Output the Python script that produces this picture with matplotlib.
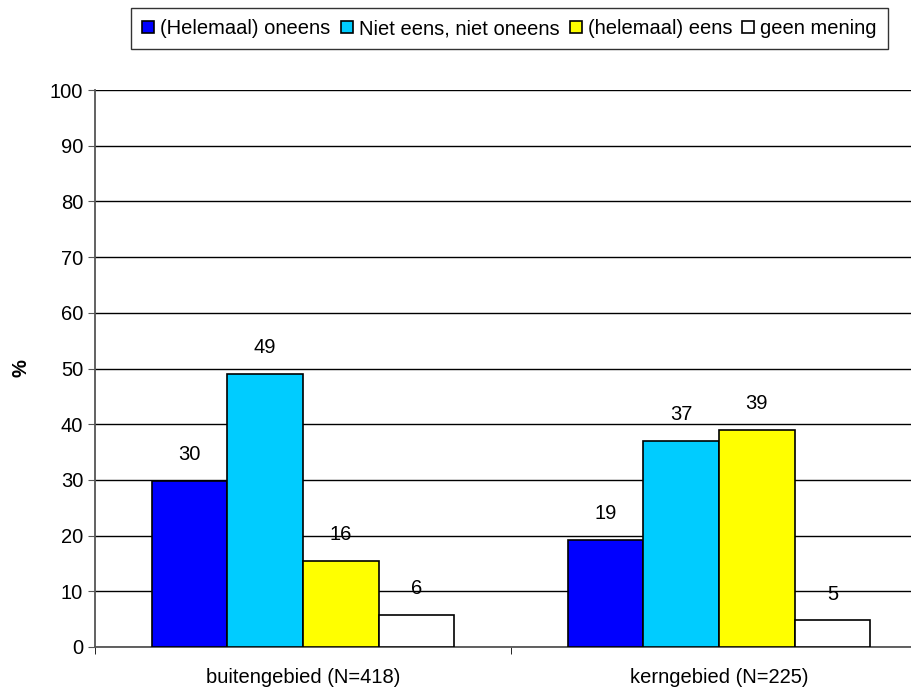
import numpy as np
import matplotlib.pyplot as plt

plt.rcParams['font.family'] = ['Liberation Sans', 'DejaVu Sans']

categories = ["buitengebied (N=418)", "kerngebied (N=225)"]
series = ["(Helemaal) oneens", "Niet eens, niet oneens", "(helemaal) eens", "geen mening"]
colors = ["#0000FF", "#00CCFF", "#FFFF00", "#FFFFFF"]
values = [
    [29.8, 19.2],   # (Helemaal) oneens
    [49.0, 37.0],   # Niet eens, niet oneens
    [15.5, 39.0],   # (helemaal) eens
    [5.8, 4.8],     # geen mening
]

FS = 14.5

fig = plt.figure(figsize=(9.12, 6.87), dpi=100)
# axes runs past the right border, like the original
ax = fig.add_axes([95 / 912, 1 - 647 / 687, 832 / 912, (647 - 90) / 687])

x = np.arange(len(categories))
width = 0.182
offsets = (np.arange(len(series)) - 1.5) * width

for i, name in enumerate(series):
    bars = ax.bar(x + offsets[i], values[i], width, color=colors[i],
                  edgecolor='black', linewidth=1.2, label=name, zorder=3)
    for b, v in zip(bars, values[i]):
        ax.text(b.get_x() + b.get_width() / 2, v + 3, f"{round(v)}",
                ha='center', va='bottom', fontsize=FS)

ax.set_xlim(-0.5, 1.5)
ax.set_ylim(0, 100)
ax.set_yticks(range(0, 101, 10))
ax.tick_params(axis='y', labelsize=FS, length=5, color='#555555')
ax.set_xticks(x)
ax.set_xticklabels(categories, fontsize=FS)
ax.tick_params(axis='x', length=0, pad=15)
# category boundary ticks
ax.set_xticks([-0.5, 0.5, 1.5], minor=True)
ax.tick_params(axis='x', which='minor', length=5, color='black')

ax.grid(axis='y', color='black', linewidth=1, zorder=0)
for s in ['top', 'right']:
    ax.spines[s].set_visible(False)
ax.spines['left'].set_color('#555555')
ax.spines['bottom'].set_color('#555555')
ax.spines['left'].set_linewidth(1.3)
ax.spines['bottom'].set_linewidth(1.3)

ax.set_ylabel('%', fontsize=FS, fontweight='bold', labelpad=14)

leg = fig.legend(loc='upper right', bbox_to_anchor=(888 / 912, 1 - 8 / 687), ncol=4,
                 fontsize=FS, frameon=True, fancybox=False, handlelength=0.6,
                 handleheight=0.6, handletextpad=0.3, columnspacing=0.5,
                 borderpad=0.55, borderaxespad=0)
leg.get_frame().set_edgecolor('black')
leg.get_frame().set_linewidth(1)

fig.savefig('out.png', dpi=100)
